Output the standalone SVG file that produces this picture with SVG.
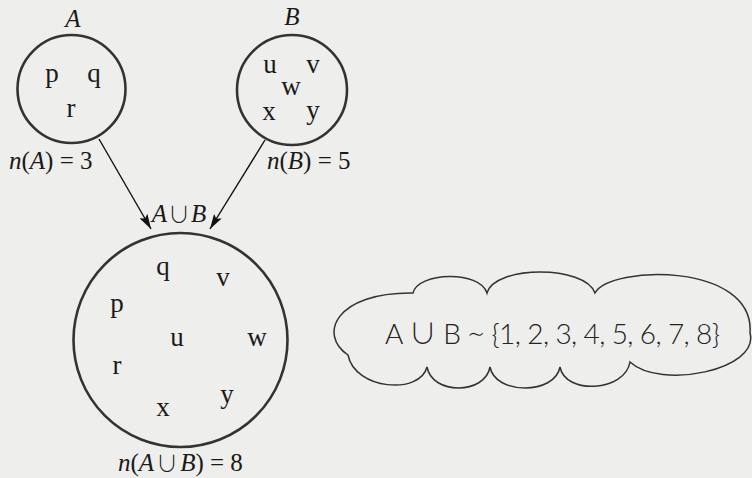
<svg xmlns="http://www.w3.org/2000/svg" width="752" height="478" viewBox="0 0 752 478">
<defs>
<marker id="ah" viewBox="0 0 15 9" refX="15" refY="4.5" markerWidth="15" markerHeight="9" markerUnits="userSpaceOnUse" orient="auto">
<path d="M0,0 L15,4.5 L0,9 L3,4.5 Z" fill="#111"/>
</marker>
</defs>
<style>
.set{fill:none;stroke:#333;stroke-width:2.6}
.el{font-family:"Liberation Serif","Times New Roman",serif;font-size:27px;fill:#1a1a1a;text-anchor:middle}
.lab{font-family:"Liberation Serif","Times New Roman",serif;font-size:25px;fill:#1a1a1a}
.it{font-style:italic}
.cup{font-family:"Noto Sans CJK JP","DejaVu Serif",serif;font-style:normal;font-weight:300;font-size:22px}
.conn{stroke:#111;stroke-width:1.4;fill:none;marker-end:url(#ah)}
.cloud{fill:none;stroke:#333;stroke-width:1.5}
.ct{font-family:"Lato","DejaVu Sans",sans-serif;font-weight:300;font-size:28px;fill:#222}
.sym{font-family:"Noto Sans CJK JP","DejaVu Sans",sans-serif;font-weight:300;font-size:28px}
</style>
<rect width="752" height="478" fill="#eeeeec"/>

<g id="connectors">
<line class="conn" x1="99" y1="139" x2="151" y2="229"/>
<line class="conn" x1="265" y1="140" x2="210" y2="229"/>
</g>

<g id="setA">
<text class="lab it" x="73" y="27" text-anchor="middle">A</text>
<circle class="set" cx="71.5" cy="89" r="54"/>
<text class="el" x="52" y="82">p</text>
<text class="el" x="94" y="82">q</text>
<text class="el" x="71" y="117">r</text>
<text class="lab" x="9" y="169"><tspan class="it">n</tspan>(<tspan class="it">A</tspan>) = 3</text>
</g>

<g id="setB">
<text class="lab it" x="292" y="25" text-anchor="middle">B</text>
<circle class="set" cx="292" cy="90" r="55"/>
<text class="el" x="270" y="73">u</text>
<text class="el" x="313" y="73">v</text>
<text class="el" x="291" y="95">w</text>
<text class="el" x="269" y="120">x</text>
<text class="el" x="313" y="119">y</text>
<text class="lab" x="267" y="169"><tspan class="it">n</tspan>(<tspan class="it">B</tspan>) = 5</text>
</g>

<g id="setAuB">
<text class="lab" x="179" y="222" text-anchor="middle"><tspan class="it">A</tspan><tspan class="cup" dx="1">∪</tspan><tspan class="it" dx="1">B</tspan></text>
<circle class="set" cx="180.5" cy="340" r="107" stroke-width="3"/>
<text class="el" x="163" y="275">q</text>
<text class="el" x="223" y="286">v</text>
<text class="el" x="117" y="312">p</text>
<text class="el" x="177" y="346">u</text>
<text class="el" x="257" y="346">w</text>
<text class="el" x="117" y="374">r</text>
<text class="el" x="227" y="403">y</text>
<text class="el" x="163" y="416">x</text>
<text class="lab" x="118" y="471"><tspan class="it">n</tspan>(<tspan class="it">A</tspan><tspan class="cup" dx="2">∪</tspan><tspan class="it" dx="2">B</tspan>) = 8</text>
</g>

<g id="cloud">
<path class="cloud" d="M348,355 C318,335 335,292 413,293 C418,272 480,270 487,293 C495,265 585,265 595,293 C610,265 755,262 750,333 C760,370 660,390 630,362 C625,392 565,395 560,367 C555,395 495,395 490,367 C485,395 432,395 427,367 C420,395 355,390 348,355 Z"/>
<text class="ct" x="385" y="344" textLength="335">A <tspan class="sym">∪</tspan> B <tspan class="sym">∼</tspan> {1, 2, 3, 4, 5, 6, 7, 8}</text>
</g>
</svg>
